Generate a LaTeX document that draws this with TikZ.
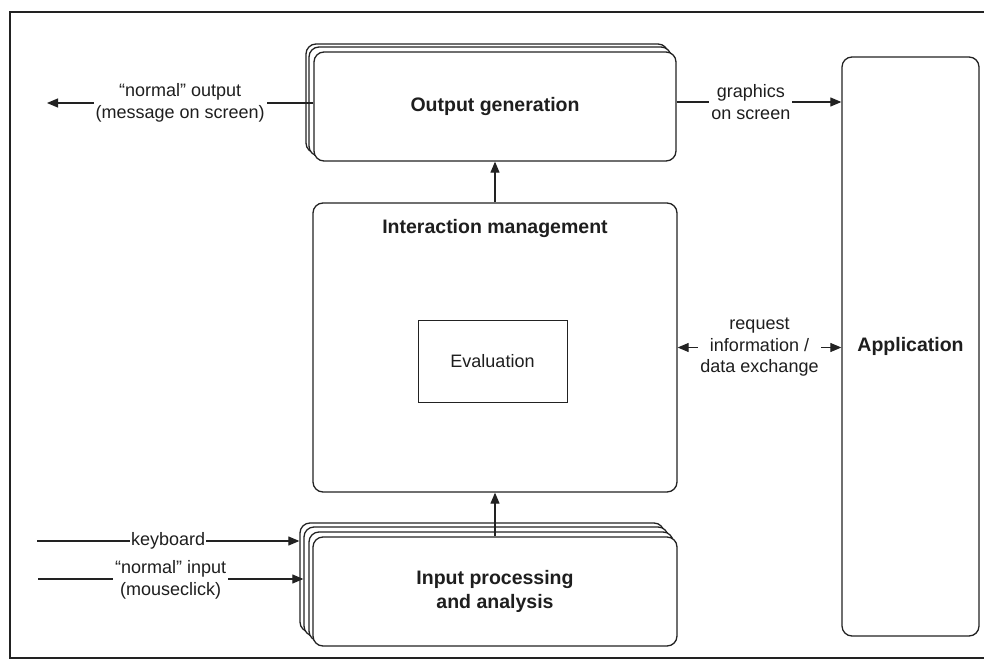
\documentclass[tikz,border=0pt]{standalone}
\usepackage{fontspec}
\setmainfont{Liberation Sans}
\usetikzlibrary{arrows.meta}
\definecolor{ink}{HTML}{222222}
\definecolor{txt}{HTML}{1E1E1E}
\begin{document}
\begin{tikzpicture}[x=1pt,y=-1pt,
  box/.style={draw=ink,line width=1.3pt,rounded corners=10pt,fill=white,inner sep=0pt},
  plainbox/.style={draw=ink,line width=1pt,fill=white,inner sep=0pt},
  bold/.style={font=\fontsize{19.5}{23.5}\selectfont\bfseries,text=txt,align=center},
  lbl/.style={font=\fontsize{18}{21.5}\selectfont,text=txt,align=center,fill=white,inner sep=2pt},
  conn/.style={draw=ink,line width=1.1pt},
  arr/.style={conn,-{Triangle[length=11pt,width=9pt]}},
  darr/.style={conn,{Triangle[length=11pt,width=9pt]}-{Triangle[length=11pt,width=9pt]}}]
\useasboundingbox (0,0) rectangle (984,660);
\fill[white] (0,0) rectangle (984,660);
% frame
\draw[ink,line width=1.2pt] (984,12) -- (10,12) -- (10,658) -- (984,658);

% output generation (stack)
\node[box,minimum width=362pt,minimum height=109pt] (outB2) at (487,98.5) {};
\node[box,minimum width=362pt,minimum height=109pt] (outB1) at (490,101.5) {};
\node[box,minimum width=362pt,minimum height=109pt] (out) at (495,106.5) {};
\node[bold] at (out.center) {Output generation};

% interaction management
\node[box,minimum width=364pt,minimum height=289pt] (inter) at (495,347.5) {};
\node[bold] (intert) at (495,229) {Interaction management};
\node[plainbox,minimum width=149pt,minimum height=82pt,font=\fontsize{18}{21.5}\selectfont,text=txt] (eval) at (492.5,361) {Evaluation};

% input processing (stack)
\node[box,minimum width=364pt,minimum height=109pt] (inpB3) at (482,577.5) {};
\node[box,minimum width=364pt,minimum height=109pt] (inpB2) at (486,581.5) {};
\node[box,minimum width=364pt,minimum height=109pt] (inpB1) at (491,586.5) {};
\node[box,minimum width=364pt,minimum height=109pt] (inp) at (495,591.5) {};
\node[bold] at (inp.center) {Input processing\\and analysis};

% application
\node[box,minimum width=137pt,minimum height=579pt] (app) at (910.5,346.5) {};
\node[bold] at (app.center) {Application};

% vertical arrows
\draw[arr] (inter.north) -- (out.south);
\draw[arr] (inp.north) -- (inter.south);

% normal output
\coordinate (oL) at (47,103);
\draw[arr] (out.west |- oL) -- node[lbl,pos=0.5] {“normal” output\\(message on screen)} (oL);

% graphics on screen
\draw[arr] ([yshift=4.5pt]out.east) -- node[lbl,pos=0.45] {graphics\\on screen} ([yshift=4.5pt]out.east -| app.west);

% request information
\draw[darr] (inter.east) -- node[lbl,pos=0.5] {request\\information /\\data exchange} (inter.east -| app.west);

% keyboard
\coordinate (kL) at (37,541);
\draw[arr] (kL) -- node[lbl,pos=0.5,inner sep=1pt] {keyboard} (kL -| inpB3.west);

% normal input
\coordinate (nL) at (38,579);
\draw[arr] (nL) -- node[lbl,pos=0.5,yshift=-1pt] {“normal” input\\(mouseclick)} (nL -| inpB2.west);
\end{tikzpicture}
\end{document}
